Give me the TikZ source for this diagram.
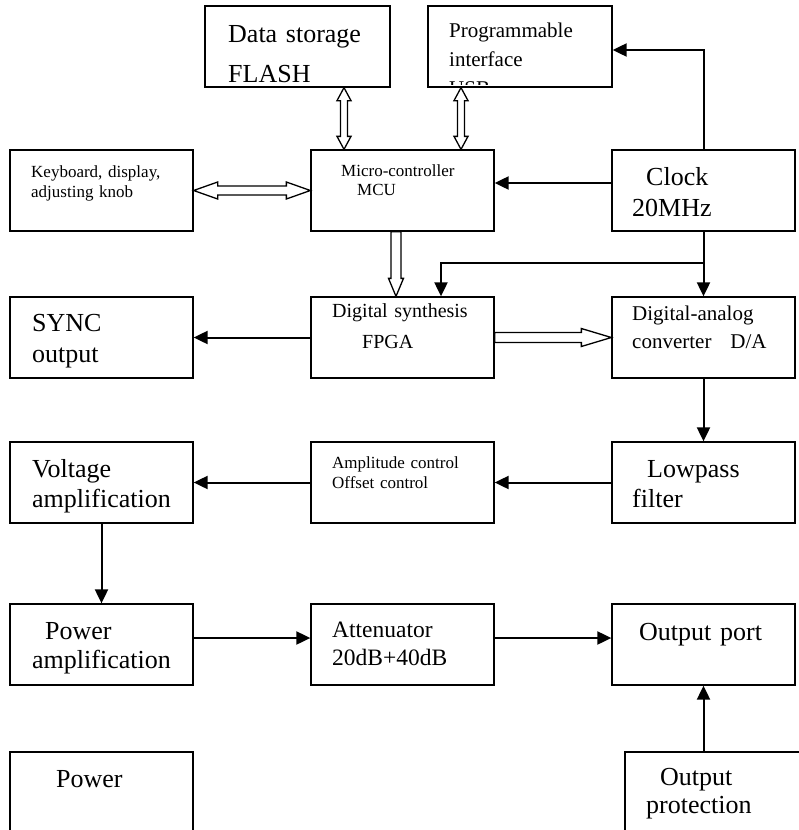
\documentclass[tikz,border=0pt]{standalone}
\usepackage{fontspec}
\setmainfont{Liberation Serif}
\usetikzlibrary{arrows.meta,calc}

\tikzset{
  blk/.style={draw, line width=1.3pt, minimum width=183pt, minimum height=81pt, inner sep=0pt},
  txt/.style={anchor=base west, inner sep=0pt, align=left, text width=175pt},
  sig/.style={line width=2pt, -{Triangle[length=14pt, width=13pt]}},
  % wide open arrow: head length, head half width, shaft half width
  hollow/.style n args={3}{to path={
    let \p1=(\tikztostart), \p2=(\tikztotarget),
        \n1={atan2(\y2-\y1,\x2-\x1)}, \n2={veclen(\x2-\x1,\y2-\y1)} in
    {[shift={(\p1)}, rotate=\n1]
     (0,#3) -- (\n2-#1,#3) -- (\n2-#1,#2) -- (\n2,0) -- (\n2-#1,-#2)
     -- (\n2-#1,-#3) -- (0,-#3) -- cycle}}},
  hollowboth/.style n args={3}{to path={
    let \p1=(\tikztostart), \p2=(\tikztotarget),
        \n1={atan2(\y2-\y1,\x2-\x1)}, \n2={veclen(\x2-\x1,\y2-\y1)} in
    {[shift={(\p1)}, rotate=\n1]
     (0,0) -- (#1,#2) -- (#1,#3) -- (\n2-#1,#3) -- (\n2-#1,#2) -- (\n2,0)
     -- (\n2-#1,-#2) -- (\n2-#1,-#3) -- (#1,-#3) -- (#1,-#2) -- cycle}}},
  wide/.style={line width=1.3pt, fill=white}
}

\begin{document}
\begin{tikzpicture}[x=1pt, y=-1pt]
  \useasboundingbox (0,0) rectangle (799,830);
  \clip (0,0) rectangle (799,830);

  % blocks
  \node[blk, minimum width=185pt] (flash) at (297.5,46.5) {};
  \node[blk, minimum width=184pt] (usb) at (520,46.5) {};
  \node[blk] (keys) at (101.5,190.5) {};
  \node[blk] (mcu) at (402.5,190.5) {};
  \node[blk] (clock) at (703.5,190.5) {};
  \node[blk] (sync) at (101.5,337.5) {};
  \node[blk] (fpga) at (402.5,337.5) {};
  \node[blk] (da) at (703.5,337.5) {};
  \node[blk] (volt) at (101.5,482.5) {};
  \node[blk] (ampl) at (402.5,482.5) {};
  \node[blk] (lowpass) at (703.5,482.5) {};
  \node[blk] (pamp) at (101.5,644.5) {};
  \node[blk] (atten) at (402.5,644.5) {};
  \node[blk] (port) at (703.5,644.5) {};
  \node[blk, minimum height=98pt] (power) at (101.5,801) {};
  \node[blk, minimum height=98pt] (prot) at (716.5,801) {};

  % texts
  \node[txt, font=\fontsize{26}{40}\selectfont] (flashtext) at (228,42) {Data storage\\FLASH};
  \begin{scope}
    \clip (428,6) rectangle (612,84);
    \node[txt, font=\fontsize{21}{29}\selectfont] (usbtext) at (449,37) {Programmable\\interface\\USB};
  \end{scope}
  \node[txt, font=\fontsize{17}{20}\selectfont] (keystext) at (31,177) {Keyboard, display,\\adjusting knob};
  \node[txt, font=\fontsize{17}{19}\selectfont] (mcutext) at (341,176) {Micro-controller\\\hspace*{16pt}MCU};
  \node[txt, font=\fontsize{26}{31}\selectfont] (clocktext) at (632,185) {\hspace*{14pt}Clock\\20MHz};
  \node[txt, font=\fontsize{26}{31}\selectfont] (synctext) at (32,331) {SYNC\\output};
  \node[txt, font=\fontsize{20}{31}\selectfont] (fpgatext) at (332,317) {Digital synthesis\\\hspace*{30pt}FPGA};
  \node[txt, font=\fontsize{21}{28}\selectfont] (datext) at (632,320) {Digital-analog\\converter\hspace{19pt}D/A};
  \node[txt, font=\fontsize{26}{30}\selectfont] (volttext) at (32,477) {Voltage\\amplification};
  \node[txt, font=\fontsize{17}{20}\selectfont] (ampltext) at (332,468) {Amplitude control\\Offset control};
  \node[txt, font=\fontsize{26}{30}\selectfont] (lowpasstext) at (632,477) {\hspace*{15pt}Lowpass\\filter};
  \node[txt, font=\fontsize{26}{29}\selectfont] (pamptext) at (32,639) {\hspace*{13pt}Power\\amplification};
  \node[txt, font=\fontsize{23.5}{28}\selectfont] (attentext) at (332,637) {Attenuator\\20dB+40dB};
  \node[txt, font=\fontsize{26}{30}\selectfont] (porttext) at (639,640) {Output port};
  \node[txt, font=\fontsize{26}{30}\selectfont] (powertext) at (56,787) {Power};
  \node[txt, font=\fontsize{26}{28}\selectfont] (prottext) at (646,785) {\hspace*{14pt}Output\\protection};

  % data buses
  \draw[wide] ([xshift=46.5pt]flash.south) to[hollowboth={13}{7}{3.5}] ([xshift=-58.5pt]mcu.north);
  \draw[wide] ([xshift=-59pt]usb.south) to[hollowboth={13}{7}{3.5}] ([xshift=58.5pt]mcu.north);
  \draw[wide] (keys.east) to[hollowboth={24}{8.5}{4.5}] (mcu.west);
  \draw[wide] ([xshift=-6.5pt]mcu.south) to[hollow={18}{7.5}{5}] ([xshift=-6.5pt]fpga.north);
  \draw[wide] (fpga.east) to[hollow={30}{9}{5}] (da.west);

  % clock lines
  \coordinate (clk) at ([yshift=-31pt]clock.south);
  \draw[sig] ([yshift=7.5pt]clock.west) -- ([yshift=7.5pt]clock.west -| mcu.east);
  \draw[sig] (clock.north) |- ([yshift=-3.5pt]usb.east);
  \draw[line width=2pt] (clock.south) -- (clk);
  \draw[sig] (clk) -| ([xshift=38.5pt]fpga.north);
  \draw[sig] (clk) -- (da.north);

  % signal path
  \draw[sig] (fpga.west) -- (sync.east);
  \draw[sig] (da.south) -- (lowpass.north);
  \draw[sig] (lowpass.west) -- (ampl.east);
  \draw[sig] (ampl.west) -- (volt.east);
  \draw[sig] (volt.south) -- (pamp.north);
  \draw[sig] ([yshift=6.5pt]pamp.east) -- ([yshift=6.5pt]atten.west);
  \draw[sig] ([yshift=6.5pt]atten.east) -- ([yshift=6.5pt]port.west);
  \draw[sig] (port.south |- prot.north) -- (port.south);
\end{tikzpicture}
\end{document}
